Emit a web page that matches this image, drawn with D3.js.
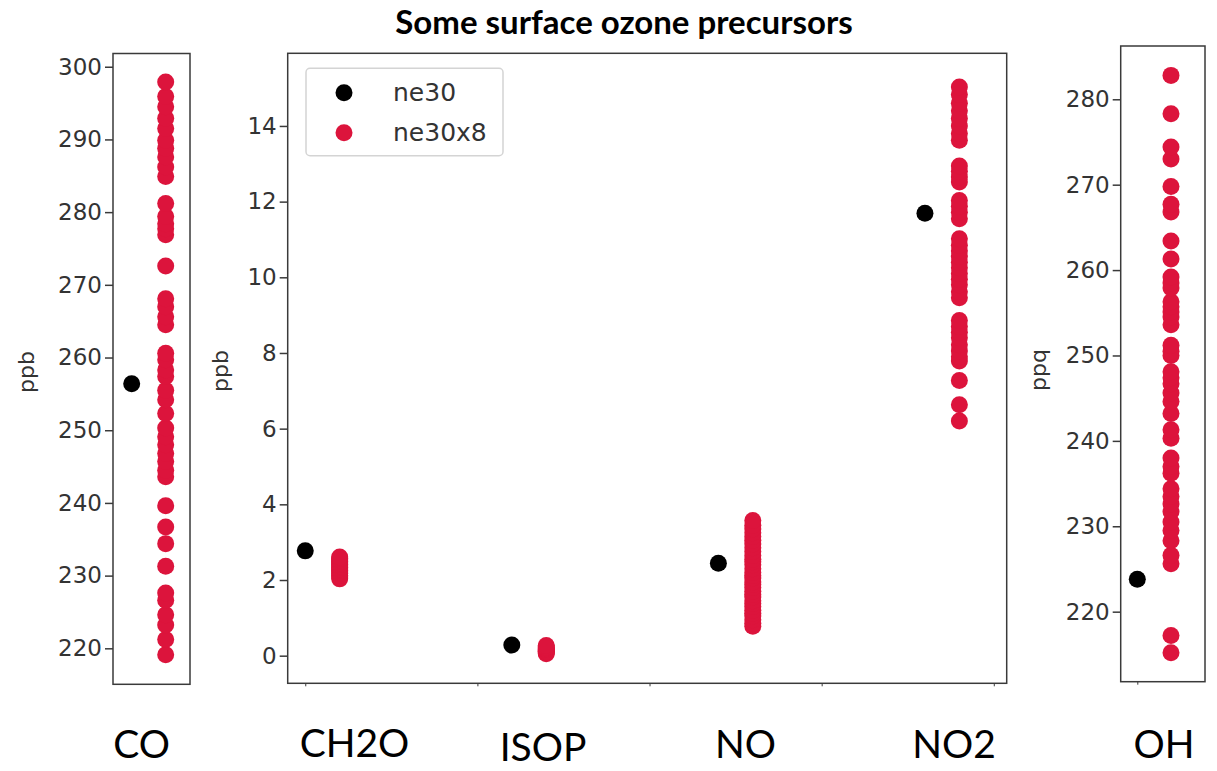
<!DOCTYPE html>
<html>
<head>
<meta charset="utf-8">
<script src="https://cdn.jsdelivr.net/npm/d3@7/dist/d3.min.js"></script>
<style>
  body { margin: 0; background: #fff; }
  svg { display: block; }
</style>
</head>
<body>
<div id="chart"></div>
<script>
// values
var coNe30 = [256.4];
var coNe30x8 = [219.1, 221.2, 223.2, 224.6, 226.6, 227.6, 231.3, 234.4, 236.7, 239.6,
  243.6, 244.5, 245.7, 246.8, 248.0, 249.1, 250.3, 252.3, 254.2, 255.5, 257.4, 258.3,
  259.7, 260.6, 264.5, 265.6, 267.0, 268.1, 272.6, 276.9, 277.7, 278.4, 279.4, 281.2,
  284.9, 286.2, 287.6, 288.8, 289.9, 291.5, 292.9, 294.5, 295.9, 297.9];

var midCats = ["CH2O", "ISOP", "NO", "NO2"];
var midNe30 = [2.77, 0.28, 2.44, 11.69];
var ch2oNe30x8 = [2.03, 2.08, 2.12, 2.17, 2.21, 2.25, 2.29, 2.33, 2.37, 2.41, 2.45, 2.49, 2.53, 2.57, 2.61];
var isopNe30x8 = [0.05, 0.08, 0.10, 0.12, 0.14, 0.16, 0.18, 0.20, 0.23, 0.27];
var noNe30x8 = [0.78, 0.86, 0.95, 1.05, 1.12, 1.20, 1.30, 1.38, 1.45, 1.55, 1.62, 1.70,
  1.80, 1.88, 1.95, 2.05, 2.12, 2.20, 2.30, 2.40, 2.48, 2.55, 2.65, 2.75, 2.85, 2.95,
  3.05, 3.15, 3.25, 3.35, 3.45, 3.57];
var no2Ne30x8 = [6.20, 6.63, 7.27, 7.79, 7.90, 8.05, 8.22, 8.40, 8.55, 8.70, 8.86,
  9.46, 9.62, 9.80, 9.95, 10.10, 10.25, 10.40, 10.55, 10.70, 10.85, 11.02,
  11.55, 11.72, 11.88, 12.03, 12.52, 12.65, 12.80, 12.94,
  13.62, 13.80, 14.00, 14.20, 14.40, 14.60, 14.83, 15.03];

var ohNe30 = [223.8];
var ohNe30x8 = [215.2, 217.2, 225.6, 226.6, 228.3, 229.5, 230.5, 231.7, 232.6, 233.5,
  234.4, 236.2, 237.0, 238.0, 240.3, 241.3, 243.2, 244.6, 245.6, 246.7, 247.4, 248.1,
  250.0, 250.5, 251.2, 253.6, 254.5, 255.1, 255.7, 256.3, 257.9, 258.5, 259.2, 261.3,
  263.4, 266.8, 267.7, 269.8, 273.0, 274.4, 278.3, 282.8];

var coTicks = [220, 230, 240, 250, 260, 270, 280, 290, 300];
var midTicks = [0, 2, 4, 6, 8, 10, 12, 14];
var ohTicks = [220, 230, 240, 250, 260, 270, 280];
var bottomLabels = ["CO", "CH2O", "ISOP", "NO", "NO2", "OH"];
var seriesNames = ["ne30", "ne30x8"];

// styling / layout
var black = "#000000", red = "#dc143c", axisColor = "#3a3a3a", textColor = "#333333";
var r = 8.5;
var labelX = [141.5, 354.5, 543, 745.5, 954, 1164];
var labelY = [758, 757, 761, 758, 758, 758];

var svg = d3.select("#chart")
  .append("svg")
    .attr("width", 1217)
    .attr("height", 771);

// one small matplotlib-like panel
function panel(opt) {
  var x = d3.scaleLinear().domain(opt.xDomain).range([opt.left, opt.right]);
  var y = d3.scaleLinear().domain(opt.yDomain).range([opt.bottom, opt.top]);
  var g = svg.append("g");

  var yAxis = g.append("g")
      .attr("transform", "translate(" + opt.left + ",0)")
      .call(d3.axisLeft(y).tickValues(opt.yTicks).tickSize(8).tickPadding(3));
  yAxis.select(".domain").remove();
  yAxis.selectAll("line").attr("stroke", axisColor).attr("stroke-width", 1.5);
  yAxis.selectAll("text")
      .attr("fill", textColor)
      .style("font-family", "'DejaVu Sans', sans-serif")
      .style("font-size", "23px");

  if (opt.xTicks.length) {
    var xAxis = g.append("g")
        .attr("transform", "translate(0," + opt.bottom + ")")
        .call(d3.axisBottom(x).tickValues(opt.xTicks).tickSize(3).tickFormat(""));
    xAxis.select(".domain").remove();
    xAxis.selectAll("line").attr("stroke", axisColor).attr("stroke-width", 1);
  }

  g.append("rect")
      .attr("x", opt.left)
      .attr("y", opt.top)
      .attr("width", opt.right - opt.left)
      .attr("height", opt.bottom - opt.top)
      .attr("fill", "none")
      .attr("stroke", axisColor)
      .attr("stroke-width", 1.5);

  g.append("text")
      .attr("transform", "translate(" + opt.labelX + "," + opt.labelY + ") rotate(-90)")
      .attr("text-anchor", "middle")
      .attr("fill", textColor)
      .style("font-family", "'DejaVu Sans', sans-serif")
      .style("font-size", "22px")
      .text(opt.ylabel);

  return {g: g, x: x, y: y};
}

function dots(p, xv, values, color) {
  p.g.append("g").selectAll("circle")
    .data(values)
    .enter()
    .append("circle")
      .attr("cx", p.x(xv))
      .attr("cy", function(d) { return p.y(d); })
      .attr("r", r)
      .attr("fill", color);
}

// CO
var co = panel({left: 113, right: 190, top: 53.5, bottom: 684.3,
  xDomain: [-0.11, 0.343], yDomain: [215.05, 301.82],
  yTicks: coTicks, xTicks: [], ylabel: "ppb", labelX: 34, labelY: 372});
dots(co, 0, coNe30, black);
dots(co, 0.2, coNe30x8, red);

// CH2O / ISOP / NO / NO2
var mid = panel({left: 287.7, right: 1006.7, top: 53.3, bottom: 683.3,
  xDomain: [-0.102, 4.075], yDomain: [-0.73, 15.92],
  yTicks: midTicks, xTicks: [0, 1, 2, 3, 4], ylabel: "ppb", labelX: 228, labelY: 371});
var midRed = [ch2oNe30x8, isopNe30x8, noNe30x8, no2Ne30x8];
midCats.forEach(function(c, i) {
  dots(mid, i * 1.2, [midNe30[i]], black);
  dots(mid, i * 1.2 + 0.2, midRed[i], red);
});

// legend
var leg = mid.g.append("g");
leg.append("rect")
    .attr("x", 306).attr("y", 68.3)
    .attr("width", 197).attr("height", 87.4)
    .attr("rx", 4)
    .attr("fill", "#fff")
    .attr("stroke", "#d4d4d4")
    .attr("stroke-width", 1.5);
[black, red].forEach(function(c, i) {
  leg.append("circle")
      .attr("cx", 344).attr("cy", 92.7 + i * 40)
      .attr("r", r).attr("fill", c);
  leg.append("text")
      .attr("x", 393).attr("y", 101 + i * 40)
      .attr("fill", textColor)
      .style("font-family", "'DejaVu Sans', sans-serif")
      .style("font-size", "25px")
      .text(seriesNames[i]);
});

// OH
var oh = panel({left: 1120.7, right: 1205, top: 46, bottom: 681.7,
  xDomain: [-0.0985, 0.4018], yDomain: [211.8, 286.24],
  yTicks: ohTicks, xTicks: [0], ylabel: "ppq", labelX: 1046, labelY: 370});
dots(oh, 0, ohNe30, black);
dots(oh, 0.2, ohNe30x8, red);

// title
svg.append("text")
    .attr("x", 624)
    .attr("y", 34)
    .attr("text-anchor", "middle")
    .attr("fill", "#000")
    .style("font-family", "Lato, sans-serif")
    .style("font-weight", "bold")
    .style("font-size", "33px")
    .text("Some surface ozone precursors");

// category names under the panels
svg.append("g").selectAll("text")
  .data(bottomLabels)
  .enter()
  .append("text")
    .attr("x", function(d, i) { return labelX[i]; })
    .attr("y", function(d, i) { return labelY[i]; })
    .attr("text-anchor", "middle")
    .attr("fill", "#000")
    .style("font-family", "Lato, sans-serif")
    .style("font-size", "39px")
    .text(function(d) { return d; });
</script>
</body>
</html>
